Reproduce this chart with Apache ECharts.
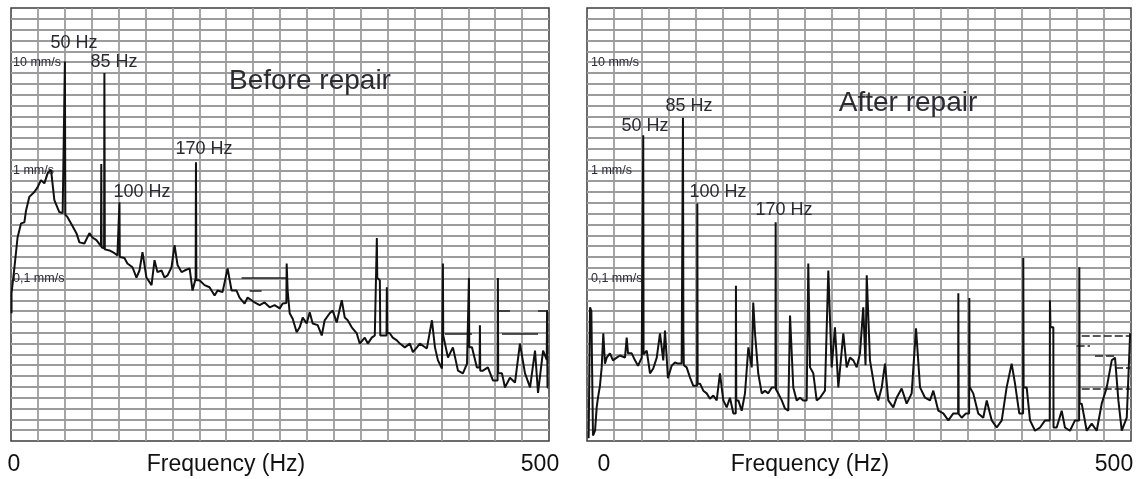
<!DOCTYPE html>
<html>
<head>
<meta charset="utf-8">
<script src="https://cdn.jsdelivr.net/npm/echarts@6/dist/echarts.min.js"></script>
<style>
  html, body { margin: 0; padding: 0; background: #fff; }
  #chart { width: 1140px; height: 479px; }
</style>
</head>
<body>
<div id="chart"></div>
<script>
// velocity level in dB re 1 mm/s (20 dB = 10 mm/s, -20 dB = 0,1 mm/s)
const beforeSpectrum = [
  [0.5, -26.4], [0.5, -22.7], [3.1, -18.1], [6.1, -12.4], [9.3, -9.8], [12.4, -9.6], [14.0, -7.4],
  [17.0, -4.9], [21.7, -4.0], [24.8, -3.1], [27.9, -1.8], [31.0, -2.4], [34.1, -0.5], [37.2, 0.1],
  [40.3, -5.5], [44.9, -7.7], [48.0, -7.9], [49.8, -8.0], [50.1, 20.1], [50.5, -8.2], [52.4, -8.6],
  [56.1, -9.9], [60.8, -11.6], [63.6, -13.3], [68.2, -13.5], [72.9, -11.6], [75.7, -12.4], [79.4, -12.9],
  [83.6, -14.0], [83.9, 1.2], [84.2, -14.2], [86.5, -14.4], [86.8, 18.0], [87.2, -14.6], [91.5, -14.8],
  [96.2, -15.3], [98.9, -15.7], [100.5, -15.8], [100.8, -5.9], [101.1, -16.0], [102.6, -16.1], [105.4, -16.2],
  [108.2, -17.2], [112.9, -17.9], [116.6, -19.8], [119.4, -18.5], [122.2, -15.1], [125.9, -19.8], [130.6, -21.2],
  [133.4, -16.6], [136.1, -18.8], [139.9, -18.5], [142.7, -19.8], [145.5, -19.4], [149.2, -17.9], [152.0, -13.8],
  [154.8, -17.5], [158.5, -18.8], [161.3, -18.5], [166.0, -18.1], [168.7, -22.2], [171.6, -20.0], [171.9, 1.5],
  [172.3, -20.3], [175.2, -20.3], [179.9, -21.2], [184.5, -21.6], [189.2, -23.1], [192.0, -22.2], [196.6, -22.5],
  [201.3, -18.1], [205.0, -22.2], [209.6, -22.2], [212.4, -23.5], [217.1, -24.6], [219.9, -23.5], [223.6, -24.0],
  [226.4, -24.4], [231.1, -24.9], [235.7, -24.4], [240.4, -25.3], [245.0, -24.9], [249.7, -25.5], [252.5, -24.6],
  [255.9, -24.5], [256.2, -17.2], [257.1, -22.2], [259.0, -26.4], [261.8, -27.4], [265.5, -29.9], [268.3, -29.0],
  [271.1, -27.2], [274.8, -28.3], [277.6, -26.2], [280.4, -28.3], [285.0, -28.6], [288.8, -30.5], [291.5, -27.7],
  [296.2, -26.4], [299.0, -25.9], [302.7, -28.1], [307.4, -24.0], [310.2, -27.2], [312.9, -27.7], [316.7, -29.0],
  [321.3, -30.1], [324.1, -32.0], [328.8, -30.9], [331.6, -32.0], [335.3, -30.9], [338.1, -30.5], [339.7, -30.5],
  [340.0, -12.5], [340.4, -19.9], [342.8, -20.3], [343.2, -30.5], [345.5, -30.5], [349.0, -30.5], [349.3, -21.6],
  [349.6, -30.0], [352.0, -30.1], [354.8, -30.9], [358.6, -31.4], [361.4, -32.0], [366.0, -32.7], [370.7, -32.0],
  [373.5, -33.6], [377.2, -32.7], [380.0, -32.0], [386.5, -32.9], [391.2, -27.7], [394.0, -32.7], [396.8, -35.1],
  [400.5, -36.6], [401.1, -36.6], [401.4, -17.2], [401.7, -30.5], [403.3, -30.5], [406.1, -34.6], [410.7, -32.7],
  [415.4, -37.0], [420.0, -37.5], [423.8, -35.7], [425.3, -35.7], [425.6, -19.9], [425.9, -32.7], [428.4, -32.7],
  [433.0, -36.4], [435.5, -36.4], [435.8, -28.6], [436.1, -37.0], [438.6, -37.0], [443.2, -36.4], [447.9, -38.8],
  [452.2, -38.8], [452.5, -19.9], [452.8, -37.5], [456.3, -37.5], [459.1, -40.1], [463.7, -38.3], [468.4, -39.2],
  [473.0, -32.0], [477.7, -37.5], [482.4, -40.1], [487.0, -33.3], [489.8, -41.1], [494.5, -33.3], [497.9, -35.0],
  [498.2, -25.9], [498.6, -40.1], [499.5, -40.1]
];

const afterSpectrum = [
  [1.5, -49.5], [2.8, -25.3], [4.0, -26.0], [4.2, -29.0], [5.5, -49.0], [7.4, -48.1], [8.9, -43.8],
  [10.1, -42.0], [11.9, -39.8], [13.5, -36.4], [15.0, -30.1], [16.5, -35.7], [18.1, -34.6], [21.1, -33.8],
  [23.9, -35.1], [27.3, -34.6], [30.3, -34.2], [34.9, -34.6], [36.5, -30.9], [37.7, -33.8], [41.1, -33.8],
  [44.1, -35.1], [46.9, -36.1], [50.3, -34.6], [51.5, -34.6], [51.7, 6.5], [52.0, -34.0], [54.9, -33.3],
  [57.9, -37.5], [60.9, -36.6], [64.1, -34.6], [67.1, -30.1], [70.1, -35.1], [71.7, -29.6], [74.4, -38.4],
  [77.8, -36.1], [80.9, -35.5], [83.6, -35.7], [87.0, -35.7], [88.0, -35.5], [88.2, 9.7], [88.6, -30.0],
  [89.0, -36.0], [91.6, -36.4], [94.7, -38.3], [97.7, -39.8], [101.2, -39.8], [101.4, -6.1], [101.7, -39.4],
  [103.9, -39.4], [106.9, -40.7], [110.0, -41.2], [113.0, -42.2], [116.1, -41.6], [119.2, -42.5], [122.2, -37.5],
  [125.3, -42.5], [128.4, -43.8], [131.4, -42.0], [134.5, -44.9], [136.7, -44.9], [136.9, -21.3], [137.2, -42.5],
  [139.1, -42.5], [142.2, -44.4], [145.2, -41.2], [148.3, -32.7], [151.4, -36.4], [152.8, -24.4], [154.4, -30.1],
  [157.4, -37.5], [160.6, -41.2], [163.6, -40.7], [166.6, -41.2], [169.8, -40.1], [173.2, -40.1], [173.4, -9.6],
  [173.7, -40.5], [175.8, -41.2], [179.0, -42.5], [182.0, -44.0], [185.0, -44.4], [186.6, -26.8], [189.6, -40.1],
  [192.7, -42.5], [195.8, -42.0], [198.8, -42.5], [201.9, -42.5], [203.4, -17.2], [205.0, -36.4], [208.0, -37.5],
  [211.1, -42.5], [214.2, -42.0], [218.7, -40.7], [221.8, -18.5], [224.9, -36.4], [227.9, -29.0], [231.0, -40.1],
  [235.6, -30.1], [238.7, -36.4], [241.7, -34.6], [244.8, -35.1], [247.9, -36.4], [250.9, -33.8], [253.9, -25.3],
  [256.0, -36.0], [257.1, -19.4], [260.1, -35.1], [264.7, -40.7], [267.7, -42.5], [270.9, -40.1], [273.9, -35.7],
  [276.9, -42.5], [281.5, -43.8], [284.6, -42.0], [289.2, -40.3], [293.8, -43.1], [298.4, -41.2], [302.4, -29.2],
  [306.1, -40.1], [310.7, -42.0], [315.3, -42.5], [318.3, -40.7], [322.9, -44.4], [327.5, -44.9], [332.1, -46.2],
  [336.7, -44.9], [341.1, -44.9], [341.3, -22.7], [341.6, -45.0], [344.4, -45.7], [348.3, -44.9], [351.2, -44.9],
  [351.4, -23.6], [351.7, -40.0], [355.0, -41.2], [359.6, -44.9], [364.2, -45.7], [367.4, -42.5], [372.0, -46.2],
  [376.6, -47.5], [381.2, -46.2], [385.7, -40.1], [390.3, -35.7], [393.4, -39.4], [397.3, -44.9], [400.8, -44.9],
  [401.0, -16.2], [401.3, -40.1], [404.1, -40.1], [407.2, -46.2], [411.8, -48.1], [416.4, -47.5], [421.0, -46.2],
  [425.3, -46.2], [425.5, -24.0], [426.0, -29.0], [428.6, -29.0], [428.8, -47.5], [431.7, -47.5], [436.3, -44.4],
  [439.3, -47.5], [443.9, -48.1], [448.5, -46.2], [452.3, -46.2], [452.5, -17.9], [452.8, -43.1], [454.7, -43.1],
  [459.3, -48.1], [463.9, -46.8], [468.5, -48.1], [473.1, -43.1], [477.7, -40.1], [482.3, -35.1], [485.3, -34.6],
  [488.4, -42.5], [491.5, -48.1], [496.1, -45.7], [499.2, -30.1]
];

// horizontal hold traces left by the analyser
const beforeHoldFrom = [214.3, 221.8, 403.3, 456.3, 452.5, 489.8];
const beforeHoldTo = [257.1, 232.9, 428.4, 489.8, 463.7, 499.1];
const beforeHoldDb = [-19.9, -22.2, -30.1, -30.1, -25.9, -25.9];

const afterHoldFrom = [454.7, 450.0, 466.9, 485.3, 454.7];
const afterHoldTo = [499.2, 462.3, 485.3, 499.2, 499.2];
const afterHoldDb = [-30.5, -32.4, -34.3, -36.4, -40.3];

const xTickLabels = { 0: '0', 500: '500' };
const yTickLabels = { 20: '10 mm/s', 0: '1 mm/s', '-20': '0,1 mm/s' };
const beforePeaks = ['50 Hz', '85 Hz', '100 Hz', '170 Hz'];
const afterPeaks = ['50 Hz', '85 Hz', '100 Hz', '170 Hz'];
const titles = ['Before repair', 'After repair'];

const FONT = '"Liberation Sans", Arial, sans-serif';
const gridLine = { color: '#9c9c9c', width: 1.8 };

const holdLines = (from, to, db) =>
  from.map((f, i) => ({ coords: [[f, db[i]], [to[i], db[i]]] }));

const freqAxis = (gridIndex, padFirst, padLast, namePad) => ({
  type: 'value',
  gridIndex,
  min: 0,
  max: 500,
  interval: 25,
  axisLine: { show: false },
  axisTick: { show: false },
  splitLine: { show: true, showMinLine: false, showMaxLine: false, lineStyle: gridLine },
  axisLabel: {
    margin: 12,
    formatter: (v) => (v === 0 ? '{a|' + xTickLabels[0] + '}' : v === 500 ? '{b|' + xTickLabels[500] + '}' : ''),
    rich: {
      a: { fontSize: 23, fontFamily: FONT, color: '#111', padding: [0, 0, 0, padFirst] },
      b: { fontSize: 23, fontFamily: FONT, color: '#111', padding: [0, padLast, 0, 0] },
    },
  },
  name: 'Frequency (Hz)',
  nameLocation: 'middle',
  nameGap: 12,
  nameMoveOverlap: false,
  nameTextStyle: { fontSize: 23, fontFamily: FONT, color: '#111', padding: [0, namePad, 0, 0] },
});

const levelAxis = (gridIndex, margin) => ({
  type: 'value',
  gridIndex,
  min: -50,
  max: 30,
  interval: 2,
  axisLine: { show: false },
  axisTick: { show: false },
  splitLine: { show: true, showMinLine: false, showMaxLine: false, lineStyle: gridLine },
  axisLabel: {
    inside: true,
    margin,
    fontSize: 12.5,
    fontFamily: FONT,
    color: '#2b2b3a',
    formatter: (v) => yTickLabels[v] || '',
  },
});

const note = (text, x, y, size) => ({
  type: 'text',
  x,
  y,
  z: 10,
  style: {
    text,
    font: size + 'px ' + FONT,
    fill: '#2a2a33',
    align: 'center',
    verticalAlign: 'middle',
  },
});

const chart = echarts.init(document.getElementById('chart'), null, { renderer: 'canvas' });

chart.setOption({
  animation: false,
  backgroundColor: '#fff',
  grid: [
    {
      left: 11, top: 8, width: 538, height: 433, show: true,
      borderColor: '#3c3c3c', borderWidth: 1.5, outerBoundsMode: 'none',
    },
    {
      left: 587, top: 8, width: 544, height: 433, show: true,
      borderColor: '#3c3c3c', borderWidth: 1.5, outerBoundsMode: 'none',
    },
  ],
  xAxis: [freqAxis(0, 6, 18, 108), freqAxis(1, 34, 34, 98)],
  yAxis: [levelAxis(0, 2), levelAxis(1, 4)],
  series: [
    {
      type: 'line',
      xAxisIndex: 0,
      yAxisIndex: 0,
      data: beforeSpectrum,
      showSymbol: false,
      lineStyle: { color: '#111', width: 2 },
      z: 3,
    },
    {
      type: 'lines',
      coordinateSystem: 'cartesian2d',
      xAxisIndex: 0,
      yAxisIndex: 0,
      data: holdLines(beforeHoldFrom, beforeHoldTo, beforeHoldDb),
      lineStyle: { color: '#222', width: 1.6, opacity: 1 },
      z: 3,
    },
    {
      type: 'line',
      xAxisIndex: 1,
      yAxisIndex: 1,
      data: afterSpectrum,
      showSymbol: false,
      lineStyle: { color: '#111', width: 2 },
      z: 3,
    },
    {
      type: 'lines',
      coordinateSystem: 'cartesian2d',
      xAxisIndex: 1,
      yAxisIndex: 1,
      data: holdLines(afterHoldFrom, afterHoldTo, afterHoldDb),
      lineStyle: { color: '#222', width: 1.6, opacity: 1, type: [8, 3] },
      z: 3,
    },
  ],
  graphic: [
    note(titles[0], 310, 81, 28),
    note(titles[1], 908, 103, 28),
    note(beforePeaks[0], 74, 43, 18),
    note(beforePeaks[1], 114, 62, 18),
    note(beforePeaks[2], 142, 192, 18),
    note(beforePeaks[3], 204, 149, 18),
    note(afterPeaks[0], 645, 126, 18),
    note(afterPeaks[1], 689, 106, 18),
    note(afterPeaks[2], 718, 192, 18),
    note(afterPeaks[3], 784, 210, 18),
  ],
});
</script>
</body>
</html>
